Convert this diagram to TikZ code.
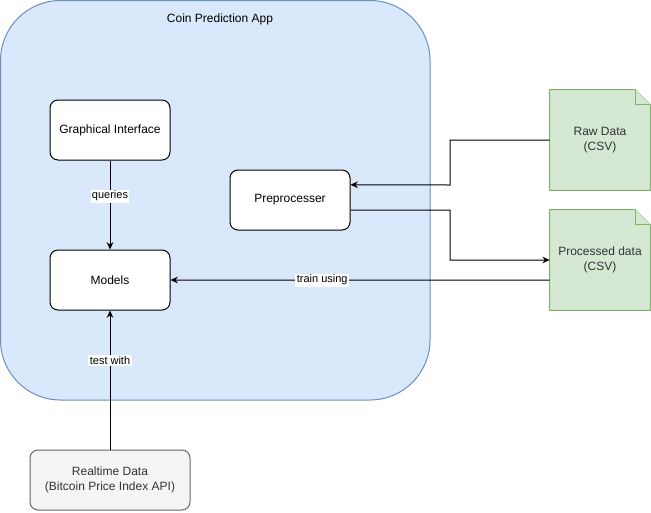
\documentclass[tikz,border=0pt]{standalone}
\usepackage{fontspec}
\setmainfont{Liberation Sans}
\usetikzlibrary{arrows.meta,calc}
\definecolor{bluefill}{HTML}{DAE8FC}
\definecolor{bluestroke}{HTML}{6C8EBF}
\definecolor{greenfill}{HTML}{D5E8D4}
\definecolor{greenstroke}{HTML}{82B366}
\definecolor{grayfill}{HTML}{F5F5F5}
\definecolor{graystroke}{HTML}{666666}
\definecolor{txt}{HTML}{333333}
\tikzset{
  box/.style={draw=black, fill=white, rounded corners=6pt, minimum width=90pt, minimum height=45pt, inner sep=0pt, font=\fontsize{9}{11}\selectfont, align=center, line width=0.75pt},
  notebox/.style={minimum width=75pt, minimum height=75pt, inner sep=0pt, font=\fontsize{9}{11}\selectfont, align=center},
  notefill/.style={draw=greenstroke, fill=greenfill, line width=0.75pt},
  conn/.style={draw=black, line width=0.75pt, -{Stealth[length=5.5pt,width=5pt]}},
  lbl/.style={fill=white, inner sep=1pt, font=\fontsize{8.25}{10}\selectfont}
}
\begin{document}
\begin{tikzpicture}[x=0.75pt,y=-0.75pt]
\useasboundingbox (0,0) rectangle (651,512);
% container
\draw[draw=bluestroke, fill=bluefill, line width=0.75pt, rounded corners=45pt] (0.5,0.5) rectangle (430,400);
\node[font=\fontsize{9}{11}\selectfont] (title) at (220,19) {Coin Prediction App};
% boxes
\node[box] (gui) at (110,130) {Graphical Interface};
\node[box] (models) at (110,280) {Models};
\node[box] (pre) at (290,200) {Preprocesser};
\node[box, draw=graystroke, fill=grayfill, minimum width=120pt, text=txt] (rt) at (110,480) {Realtime Data\\(Bitcoin Price Index API)};
% notes
\def\fold{11.25pt}
\foreach \n/\cy in {raw/140, proc/260}{
  \node[notebox] (\n) at (600,\cy) {};
}
\foreach \n in {raw, proc}{
  \draw[notefill] (\n.south west) -- (\n.north west) -- ($(\n.north east)+(-\fold,0)$) -- ($(\n.north east)+(0,-\fold)$) -- (\n.south east) -- cycle;
  \draw[notefill] ($(\n.north east)+(-\fold,0)$) -- ($(\n.north east)+(-\fold,-\fold)$) -- ($(\n.north east)+(0,-\fold)$);
}
\node[notebox, text=txt] (rawt) at (raw) {Raw Data\\(CSV)};
\node[notebox, text=txt] (proct) at (proc) {Processed data\\(CSV)};
% connectors
\draw[conn] (gui.south) -- node[lbl, pos=0.4] {queries} (models.north);
\draw[conn] (rt.north) -- node[lbl, pos=0.64] {test with} (models.south);
\coordinate (preIn) at ($(pre.north east)!0.25!(pre.south east)$);
\coordinate (preOut) at ($(pre.north east)!0.6667!(pre.south east)$);
\coordinate (procOut) at ($(proc.north west)!0.7!(proc.south west)$);
\draw[conn] (raw.west) -- (450,140) -- (450,185) -- (preIn);
\draw[conn] (preOut) -- (450,210) -- (450,260) -- (proc.west);
\draw[conn] (procOut) -- node[lbl, pos=0.6] {train using} (models.east);
\end{tikzpicture}
\end{document}
